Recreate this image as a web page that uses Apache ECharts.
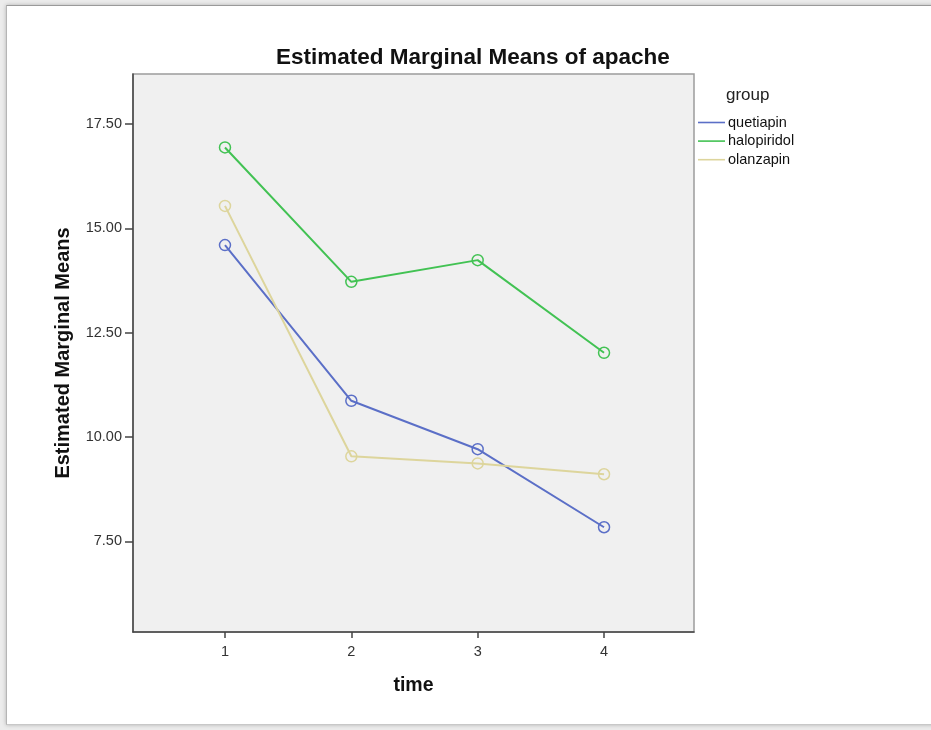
<!DOCTYPE html>
<html>
<head>
<meta charset="utf-8">
<script src="https://cdn.jsdelivr.net/npm/echarts@6/dist/echarts.min.js"></script>
<style>
  html, body { margin: 0; padding: 0; background: #f4f4f4; }
  #wrap { position: relative; width: 931px; height: 730px; overflow: hidden; background: #ececec; }
  #frame { position: absolute; left: 6px; top: 5px; width: 960px; height: 718px; background: #ffffff;
           border-top: 1px solid #9a9a9a; border-left: 1px solid #b5b5b5; border-bottom: 1px solid #c8c8c8;
           box-shadow: 0 0 4px rgba(0,0,0,0.25); }
  #chart { position: absolute; left: 0; top: 0; width: 931px; height: 730px; }
</style>
</head>
<body>
<div id="wrap">
  <div id="frame"></div>
  <div id="chart"></div>
</div>
<script>
const timePoints = [1, 2, 3, 4];
const groupNames = ['quetiapin', 'halopiridol', 'olanzapin'];
const quetiapin = [14.60, 10.87, 9.71, 7.84];
const halopiridol = [16.94, 13.72, 14.24, 12.02];
const olanzapin = [15.54, 9.54, 9.37, 9.11];
const yTicks = [7.5, 10, 12.5, 15, 17.5];
const xTicks = [1, 2, 3, 4];
const colors = ['#5b6fc7', '#42c253', '#ddd59c'];

const seriesValues = [quetiapin, halopiridol, olanzapin];

const chart = echarts.init(document.getElementById('chart'), null, { renderer: 'canvas' });
const font = 'Liberation Sans, Arial, sans-serif';

chart.setOption({
  backgroundColor: 'transparent',
  animation: false,
  title: {
    text: 'Estimated Marginal Means of apache',
    left: 276, top: 46, padding: 0,
    textStyle: { fontFamily: font, fontSize: 22.5, fontWeight: 'bold', color: '#111' }
  },
  graphic: [{
    type: 'text', left: 726, top: 87,
    style: { text: 'group', fontFamily: font, fontSize: 17, fill: '#222' }
  }],
  legend: {
    orient: 'vertical', left: 698, top: 115, padding: 0,
    itemWidth: 27, itemHeight: 1.6, itemGap: 3.6,
    icon: 'rect',
    data: groupNames.map((n, i) => ({ name: n, itemStyle: { color: colors[i], borderWidth: 0, borderColor: 'transparent' } })),
    textStyle: { fontFamily: font, fontSize: 14.5, color: '#111', padding: [0, 0, 0, -2] }
  },
  grid: {
    left: 133, right: 237, top: 74, bottom: 98,
    show: true, backgroundColor: '#f0f0f0', borderColor: '#9c9c9c', borderWidth: 1.5
  },
  xAxis: {
    type: 'value', min: 0.272, max: 4.712,
    name: 'time', nameLocation: 'middle', nameGap: 44,
    nameTextStyle: { fontFamily: font, fontSize: 19.5, fontWeight: 'bold', color: '#111' },
    axisLine: { show: true, lineStyle: { color: '#444', width: 1.5 } },
    axisTick: { show: true, customValues: xTicks, length: 6, lineStyle: { color: '#444', width: 1.5 } },
    axisLabel: { customValues: xTicks, fontFamily: font, fontSize: 14.5, color: '#333', margin: 12 },
    splitLine: { show: false }
  },
  yAxis: {
    type: 'value', min: 5.33, max: 18.70,
    name: 'Estimated Marginal Means', nameLocation: 'middle', nameGap: 60,
    nameTextStyle: { fontFamily: font, fontSize: 20, fontWeight: 'bold', color: '#111' },
    axisLine: { show: true, lineStyle: { color: '#444', width: 1.5 } },
    axisTick: { show: true, customValues: yTicks, length: 8, lineStyle: { color: '#444', width: 1.5 } },
    axisLabel: { customValues: yTicks, formatter: v => v.toFixed(2), fontFamily: font, fontSize: 14.5, color: '#333', margin: 11 },
    splitLine: { show: false }
  },
  series: groupNames.map((name, i) => ({
    name: name,
    type: 'line',
    data: timePoints.map((t, j) => [t, seriesValues[i][j]]),
    symbol: 'circle',
    symbolSize: 11,
    itemStyle: { color: 'transparent', borderColor: colors[i], borderWidth: 1.5 },
    lineStyle: { color: colors[i], width: 2 },
    emphasis: { disabled: true }
  })),
  color: colors
});
</script>
</body>
</html>
